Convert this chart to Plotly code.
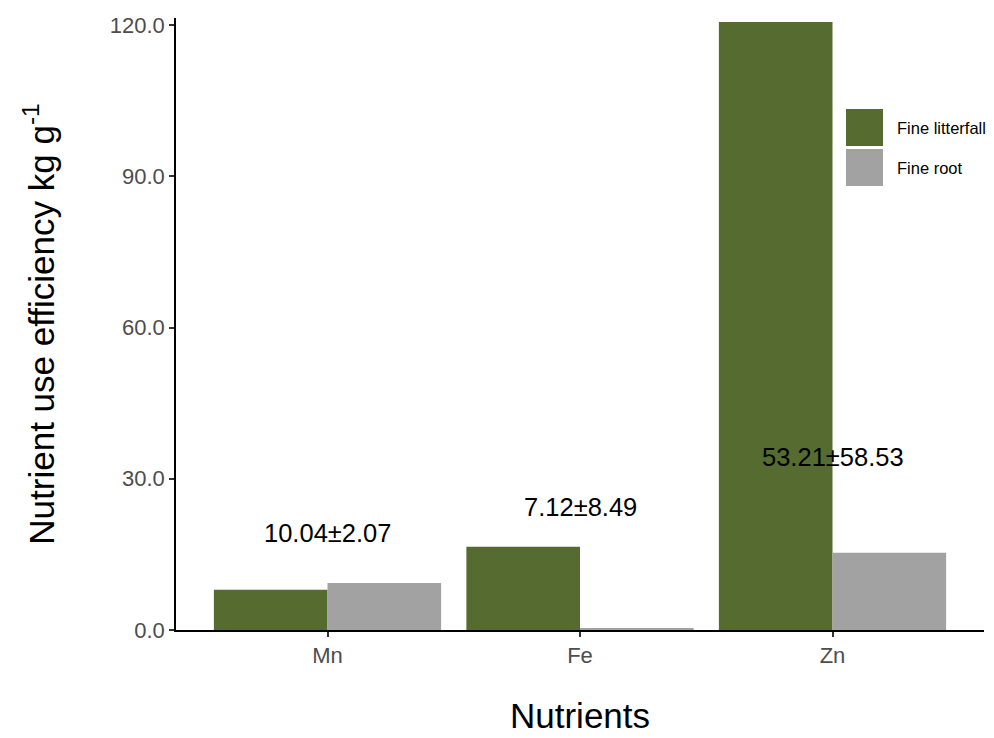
import plotly.graph_objects as go

# Nutrient use efficiency (kg g^-1) by nutrient and tissue
nutrients = ["Mn", "Fe", "Zn"]
fine_litterfall = [8.0, 16.5, 120.6]
fine_root = [9.3, 0.2, 15.3]
labels = ["10.04±2.07", "7.12±8.49", "53.21±58.53"]
label_y = [19.3, 24.4, 34.3]

green = "#556B2F"
grey = "#A2A2A2"
FONT = "Liberation Sans, Arial"

fig = go.Figure()
fig.add_trace(go.Bar(x=nutrients, y=fine_litterfall, name="Fine litterfall",
                     marker=dict(color=green, line=dict(width=0)), offsetgroup="a"))
fig.add_trace(go.Bar(x=nutrients, y=fine_root, name="Fine root",
                     marker=dict(color=grey, line=dict(width=0)), offsetgroup="b"))

for n, t, yv in zip(nutrients, labels, label_y):
    fig.add_annotation(x=n, y=yv, text=t, showarrow=False,
                       font=dict(size=25.5, color="black", family=FONT),
                       xanchor="center", yanchor="middle")

# Legend keys drawn as large squares beside the panel
legend_items = [("Fine litterfall", green), ("Fine root", grey)]
key_x0, key_w, key_h, key_top = 846, 37, 37, 109
for i, (name, col) in enumerate(legend_items):
    y0 = key_top + i * (key_h + 3)
    fig.add_shape(type="rect", xref="paper", yref="paper",
                  x0=(key_x0 - 176) / 808, x1=(key_x0 + key_w - 176) / 808,
                  y0=(630 - y0) / 612, y1=(630 - y0 - key_h) / 612,
                  fillcolor=col, line=dict(width=0), layer="above")
    fig.add_annotation(xref="paper", yref="paper",
                       x=(key_x0 + key_w + 12 - 176) / 808,
                       y=(630 - y0 - key_h / 2) / 612,
                       text=name, showarrow=False, xanchor="left", yanchor="middle",
                       font=dict(size=16.5, color="black", family=FONT))

# x-axis title placed below the tick labels
fig.add_annotation(xref="paper", yref="paper", x=0.5, y=(630 - 736) / 612,
                   text="Nutrients", showarrow=False, xanchor="center", yanchor="bottom",
                   borderpad=0, font=dict(size=35, color="black", family=FONT))

fig.update_layout(
    width=994, height=738,
    margin=dict(l=176, r=10, t=18, b=108),
    plot_bgcolor="white", paper_bgcolor="white",
    barmode="group", bargap=0.1, bargroupgap=0,
    showlegend=False,
    font=dict(family=FONT, color="black"),
)
fig.update_xaxes(
    range=[-0.6, 2.6], showline=True, linecolor="black", linewidth=1.5,
    ticks="outside", ticklen=5, tickcolor="#333333", tickwidth=1.5,
    tickfont=dict(size=22, color="#4D4D4D", family=FONT), showgrid=False, zeroline=False,
)
fig.update_yaxes(
    range=[0, 121.4], showline=True, linecolor="black", linewidth=1.5,
    tickvals=[0, 30, 60, 90, 120], tickformat=".1f",
    ticks="outside", ticklen=5, tickcolor="#333333", tickwidth=1.5,
    tickfont=dict(size=22, color="#4D4D4D", family=FONT), showgrid=False, zeroline=False,
    title=dict(text="Nutrient use efficiency kg g<sup>-1</sup>",
               font=dict(size=35, color="black", family=FONT), standoff=45),
)

fig.write_html("out.html")
